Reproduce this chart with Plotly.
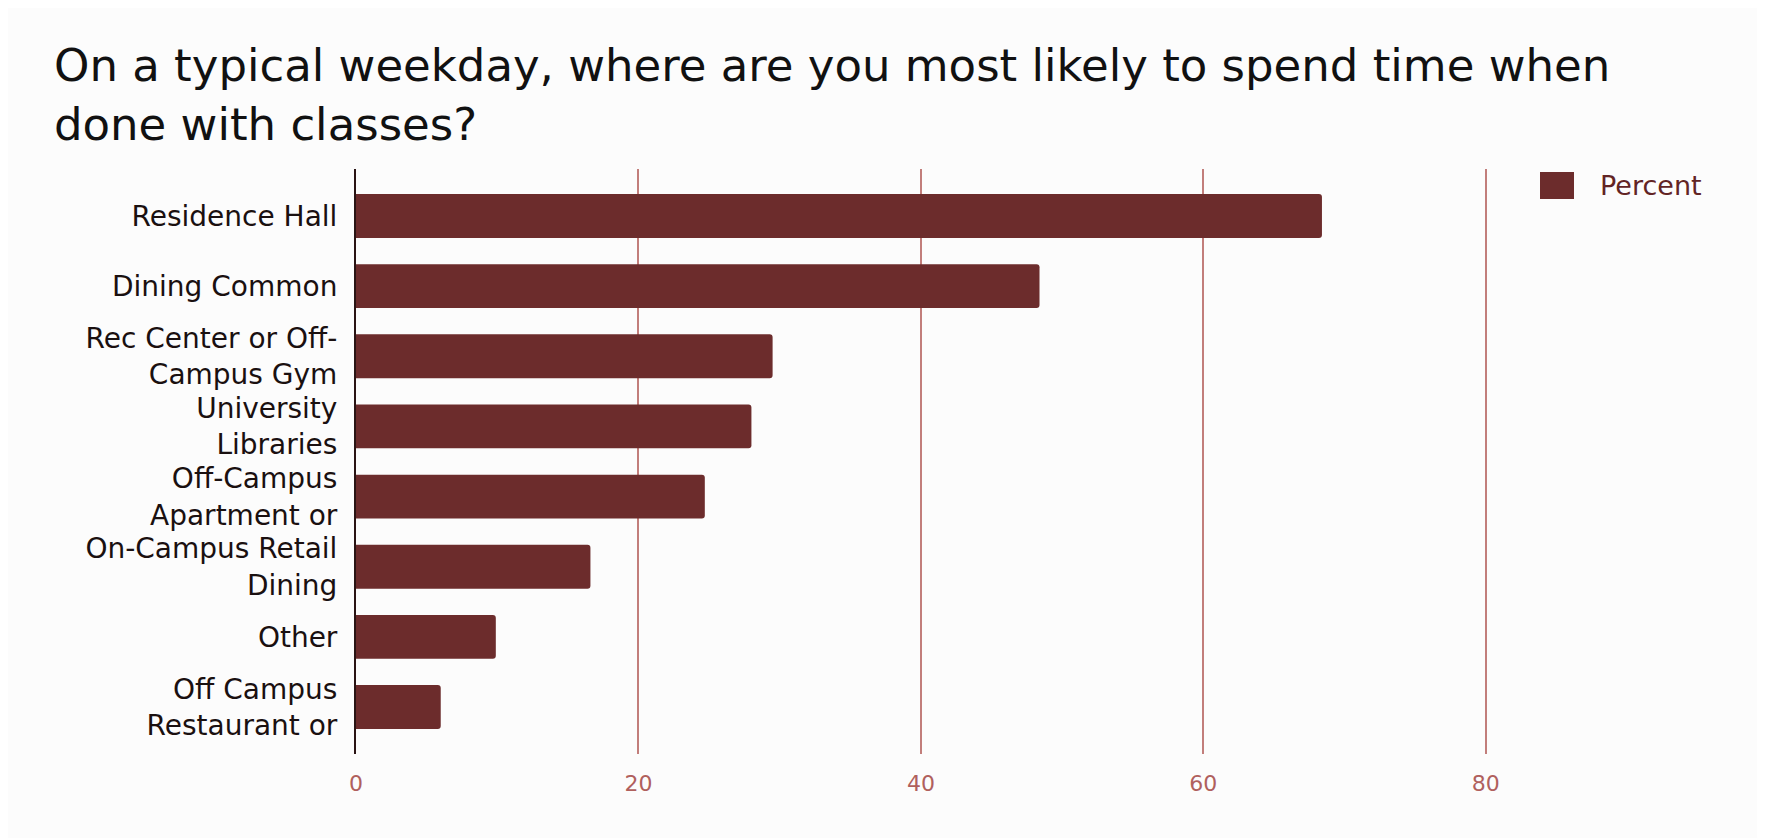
import plotly.graph_objects as go

categories = [
    "Residence Hall",
    "Dining Common",
    "Rec Center or Off-<br>Campus Gym",
    "University<br>Libraries",
    "Off-Campus<br>Apartment or",
    "On-Campus Retail<br>Dining",
    "Other",
    "Off Campus<br>Restaurant or",
]
percent = [68.4, 48.4, 29.5, 28.0, 24.7, 16.6, 9.9, 6.0]
x_ticks = [0, 20, 40, 60, 80]
series_name = "Percent"
title_text = ("On a typical weekday, where are you most likely to spend time when"
              "<br>done with classes?")

BAR = "#6c2c2c"
GRID = "#c27e7b"
TICK = "#b0605d"
FONT = "DejaVu Sans"

OFF = 8  # page body margin offset
W, H = 1765, 838
ML, MR, MT, MB = 356 - OFF, 275 + OFF, 169 - OFF, 84 + OFF
PW, PH = W - ML - MR, H - MT - MB

def px_x(p):
    return (p - OFF - ML) / PW

def px_y(p):
    return (H - MB - (p - OFF)) / PH

fig = go.Figure()
fig.add_trace(go.Bar(
    y=categories, x=percent, orientation="h", name=series_name,
    marker=dict(color=BAR, line=dict(width=0)), showlegend=False,
))

fig.update_layout(
    width=W, height=H,
    margin=dict(l=ML, r=MR, t=MT, b=MB),
    paper_bgcolor="#fcfcfc", plot_bgcolor="#fcfcfc",
    bargap=0.375, barcornerradius=3,
    title=dict(text=title_text, x=(54 - OFF) / W, xanchor="left", xref="container",
               y=1 - 73 / H, yanchor="top", yref="container",
               font=dict(family=FONT, size=45, color="#111111")),
    xaxis=dict(range=[0, 80.3], tickvals=x_ticks, showgrid=True, gridcolor=GRID,
               gridwidth=2, zeroline=False, showline=False, ticks="",
               ticklabelstandoff=14,
               tickfont=dict(family=FONT, size=22, color=TICK)),
    yaxis=dict(categoryorder="array", categoryarray=categories,
               range=[7.67, -0.67], showgrid=False, zeroline=False,
               showline=True, linecolor="#2a1414", linewidth=2, ticks="",
               ticklabelstandoff=11,
               tickfont=dict(family=FONT, size=28, color="#1a1010")),
    shapes=[dict(type="rect", xref="paper", yref="paper",
                 x0=px_x(1540), x1=px_x(1574), y0=px_y(199), y1=px_y(172),
                 fillcolor=BAR, line=dict(width=0))],
    annotations=[dict(text=series_name, xref="paper", yref="paper",
                      x=px_x(1598), y=px_y(185), xanchor="left", yanchor="middle",
                      showarrow=False,
                      font=dict(family=FONT, size=27, color="#622424"))],
)

fig.write_html("out.html")
